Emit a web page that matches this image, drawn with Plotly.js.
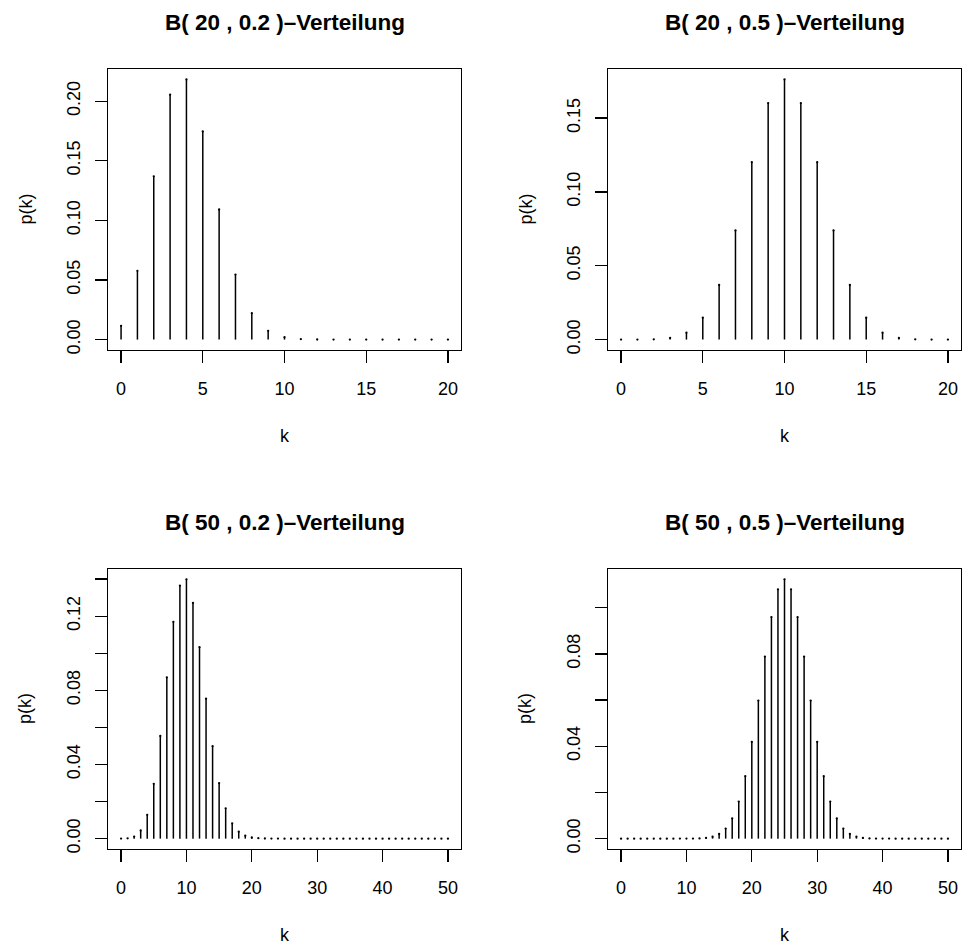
<!DOCTYPE html>
<html>
<head>
<meta charset="utf-8">
<script src="https://cdn.plot.ly/plotly-3.0.1.min.js"></script>
<style>html,body{margin:0;padding:0;background:#fff}#plot{width:963px;height:946px}</style>
</head>
<body>
<div id="plot"></div>
<script>
// ---- data ----
const titles = ['B( 20 , 0.2 )–Verteilung', 'B( 20 , 0.5 )–Verteilung', 'B( 50 , 0.2 )–Verteilung', 'B( 50 , 0.5 )–Verteilung'];
const k20 = [0,1,2,3,4,5,6,7,8,9,10,11,12,13,14,15,16,17,18,19,20];
const k50 = [0,1,2,3,4,5,6,7,8,9,10,11,12,13,14,15,16,17,18,19,20,21,22,23,24,25,26,27,28,29,30,31,32,33,34,35,36,37,38,39,40,41,42,43,44,45,46,47,48,49,50];
const p20_02 = [0.011529,0.057646,0.136909,0.205364,0.218199,0.174560,0.109100,0.054550,0.022161,0.007387,0.002031,0.000462,0.000087,0.000013,0.000002,0,0,0,0,0,0];
const p20_05 = [0.000001,0.000019,0.000181,0.001087,0.004621,0.014786,0.036964,0.073929,0.120134,0.160179,0.176197,0.160179,0.120134,0.073929,0.036964,0.014786,0.004621,0.001087,0.000181,0.000019,0.000001];
const p50_02 = [0.0000143,0.0001784,0.0010927,0.0043710,0.0128397,0.0295313,0.0553711,0.0870117,0.1169220,0.1364090,0.1398192,0.1271084,0.1032756,0.0754706,0.0498645,0.0299187,0.0163618,0.0081809,0.0037496,0.0015788,0.0006118,0.0002185,0.0000720,0.0000219,0.0000062,0.0000016,0,0,0,0,0,0,0,0,0,0,0,0,0,0,0,0,0,0,0,0,0,0,0,0,0];
const p50_05 = [0,0,0,0,0,0,0,0,0.0000005,0.0000022,0.0000091,0.0000332,0.0001078,0.0003152,0.0008330,0.0019991,0.0043731,0.0087462,0.0160347,0.0270059,0.0418592,0.0597988,0.0788257,0.0959617,0.1079569,0.1122752,0.1079569,0.0959617,0.0788257,0.0597988,0.0418592,0.0270059,0.0160347,0.0087462,0.0043731,0.0019991,0.0008330,0.0003152,0.0001078,0.0000332,0.0000091,0.0000022,0.0000005,0,0,0,0,0,0,0,0];
const xTicks20 = [0,5,10,15,20];
const xTicks50 = [0,10,20,30,40,50];
const yTicksA = [0,0.05,0.10,0.15,0.20];
const yTextA = ['0.00','0.05','0.10','0.15','0.20'];
const yTicksB = [0,0.05,0.10,0.15];
const yTextB = ['0.00','0.05','0.10','0.15'];
const yTicksC = [0,0.02,0.04,0.06,0.08,0.10,0.12,0.14];
const yTextC = ['0.00','','0.04','','0.08','','0.12',''];
const yTicksD = [0,0.02,0.04,0.06,0.08,0.10];
const yTextD = ['0.00','','0.04','','0.08',''];
const xLabel = 'k';
const yLabel = 'p(k)';

// ---- drawing ----
const W = 963, H = 946;
const FONT = 'Liberation Sans, Arial, Helvetica, sans-serif';
const TICKSIZE = 18, TITLESIZE = 22.5;

const panels = [
  {k: k20, p: p20_02, xt: xTicks20, yt: yTicksA, ytt: yTextA, box: [108, 461, 69, 350]},
  {k: k20, p: p20_05, xt: xTicks20, yt: yTicksB, ytt: yTextB, box: [608, 961, 69, 350]},
  {k: k50, p: p50_02, xt: xTicks50, yt: yTicksC, ytt: yTextC, box: [108, 461, 569, 849]},
  {k: k50, p: p50_05, xt: xTicks50, yt: yTicksD, ytt: yTextD, box: [608, 961, 569, 849]}
];

const data = [];
const layout = {
  width: W, height: H,
  margin: {l: 0, r: 0, t: 0, b: 0},
  paper_bgcolor: '#fff', plot_bgcolor: '#fff',
  showlegend: false,
  font: {family: FONT, size: TICKSIZE, color: '#000'},
  annotations: []
};

function padRange(lo, hi) { const d = (hi - lo) * 0.04; return [lo - d, hi + d]; }

panels.forEach((pn, i) => {
  const n = i + 1;
  const xa = n === 1 ? 'x' : 'x' + n;
  const ya = n === 1 ? 'y' : 'y' + n;
  const sx = [], sy = [];
  pn.k.forEach((kk, j) => { sx.push(kk, kk, null); sy.push(0, pn.p[j], null); });
  data.push({type: 'scatter', mode: 'lines', x: sx, y: sy, xaxis: xa, yaxis: ya,
    line: {color: '#000', width: 1.5}, hoverinfo: 'skip'});
  data.push({type: 'scatter', mode: 'markers', x: pn.k, y: pn.p, xaxis: xa, yaxis: ya,
    marker: {color: '#000', size: 2.3}, hoverinfo: 'skip'});

  const [l, r, t, b] = pn.box;
  const common = {
    showline: true, mirror: true, linecolor: '#000', linewidth: 1.2,
    ticks: 'outside', ticklen: 12, tickwidth: 1.2, tickcolor: '#000',
    showgrid: false, zeroline: false, fixedrange: true,
    tickfont: {family: FONT, size: TICKSIZE, color: '#000'}
  };
  layout['xaxis' + (n === 1 ? '' : n)] = Object.assign({}, common, {
    domain: [l / W, r / W], anchor: ya,
    range: padRange(Math.min(...pn.k), Math.max(...pn.k)),
    tickmode: 'array', tickvals: pn.xt, ticktext: pn.xt.map(String),
    ticklabelstandoff: 10
  });
  layout['yaxis' + (n === 1 ? '' : n)] = Object.assign({}, common, {
    domain: [1 - b / H, 1 - t / H], anchor: xa,
    range: padRange(0, Math.max(...pn.p)),
    tickmode: 'array', tickvals: pn.yt, ticktext: pn.ytt,
    tickangle: -90, ticklabelstandoff: 8
  });

  const cx = (l + r) / 2;
  layout.annotations.push({xref: 'paper', yref: 'paper', x: cx / W, y: 1 - (t - 47) / H,
    xanchor: 'center', yanchor: 'middle', showarrow: false,
    text: '<b>' + titles[i] + '</b>', font: {family: FONT, size: TITLESIZE, color: '#000'}});
  layout.annotations.push({xref: 'paper', yref: 'paper', x: cx / W, y: 1 - (b + 86) / H,
    xanchor: 'center', yanchor: 'middle', showarrow: false,
    text: xLabel, font: {family: FONT, size: TICKSIZE, color: '#000'}});
  layout.annotations.push({xref: 'paper', yref: 'paper', x: (l - 83) / W, y: 1 - ((t + b) / 2) / H,
    xanchor: 'center', yanchor: 'middle', showarrow: false, textangle: -90,
    text: yLabel, font: {family: FONT, size: TICKSIZE, color: '#000'}});
});

Plotly.newPlot('plot', data, layout, {displayModeBar: false, staticPlot: true});
</script>
</body>
</html>
